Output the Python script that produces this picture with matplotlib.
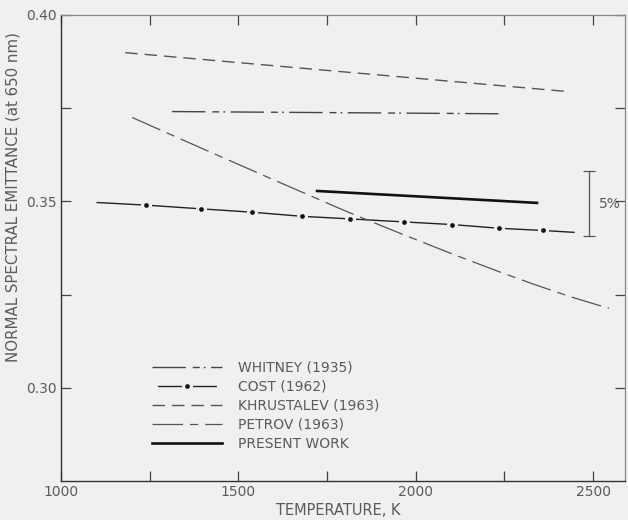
import matplotlib
matplotlib.use("Agg")
import matplotlib.pyplot as plt
from matplotlib.ticker import FixedLocator
from matplotlib.legend_handler import HandlerTuple

plt.rcParams['font.family'] = ['DejaVu Sans']
plt.rcParams['lines.scale_dashes'] = False

# ---- data ----
whitney_T = [1313, 2245]
whitney_E = [0.3741, 0.3735]

cost_T = [1102, 1239, 1396, 1539, 1679, 1816, 1966, 2101, 2234, 2358, 2446]
cost_E = [0.3497, 0.3490, 0.3480, 0.3471, 0.3460, 0.3453, 0.3445, 0.3438, 0.3428, 0.3422, 0.3417]
cost_marker_idx = list(range(1, 10))

khrustalev_T = [1181, 2424]
khrustalev_E = [0.3899, 0.3795]

petrov_T = [1201, 1393, 1604, 1810, 1957, 2106, 2239, 2332, 2437, 2545]
petrov_E = [0.3725, 0.3644, 0.3556, 0.3471, 0.3414, 0.3358, 0.3310, 0.3278, 0.3244, 0.3213]

present_T = [1722, 2342]
present_E = [0.3528, 0.3496]

bar_T = 2488
bar_center = 0.3494
bar_half = 0.00875

labels = ["WHITNEY (1935)", "COST (1962)", "KHRUSTALEV (1963)", "PETROV (1963)", "PRESENT WORK"]

BG = '#f0f0f0'
TXT = '#5a5a5a'

fig = plt.figure(figsize=(6.28, 5.20), dpi=100, facecolor=BG)
ax = fig.add_axes([61/628, 1-481/520, (625-61)/628, (481-15)/520])
ax.set_facecolor(BG)

h_w, = ax.plot(whitney_T, whitney_E, color='#444444', lw=1.0,
               dashes=(24, 5, 5, 3, 1.2, 4))
cost_line, = ax.plot(cost_T, cost_E, color='#222222', lw=1.0, marker='o',
                     markersize=8, markerfacecolor=BG, markeredgecolor='none',
                     markevery=cost_marker_idx)
cost_dots, = ax.plot([cost_T[i] for i in cost_marker_idx],
                     [cost_E[i] for i in cost_marker_idx],
                     linestyle='none', marker='o', markersize=3.4,
                     markerfacecolor='#111111', markeredgecolor='none')
h_k, = ax.plot(khrustalev_T, khrustalev_E, color='#555555', lw=1.0,
               dashes=(9, 5))
h_p, = ax.plot(petrov_T, petrov_E, color='#555555', lw=0.9,
               dashes=(22, 5, 6, 5))
h_pr, = ax.plot(present_T, present_E, color='#111111', lw=1.9)

# 5 % bar
ax.errorbar([bar_T], [bar_center], yerr=[[bar_half], [bar_half]], fmt='none',
            ecolor='#555555', elinewidth=0.9, capsize=4, capthick=0.9)
ax.text(bar_T + 28, bar_center, "5%", color=TXT, fontsize=10,
        va='center', ha='left')

ax.set_xlim(1000, 2590)
ax.set_ylim(0.275, 0.40)

ax.xaxis.set_major_locator(FixedLocator([1000, 1500, 2000, 2500]))
ax.xaxis.set_minor_locator(FixedLocator([1250, 1750, 2250]))
ax.yaxis.set_major_locator(FixedLocator([0.30, 0.35, 0.40]))
ax.yaxis.set_minor_locator(FixedLocator([0.325, 0.375]))
ax.set_xticklabels(['1000', '1500', '2000', '2500'])
ax.set_yticklabels(['0.30', '0.35', '0.40'])

ax.tick_params(which='both', direction='in', length=7, width=0.9,
               colors='#444444', labelcolor=TXT, labelsize=10,
               top=True, right=True)
ax.tick_params(axis='y', pad=3)
ax.tick_params(axis='x', pad=3)

for s in ['left', 'bottom']:
    ax.spines[s].set_color('#333333')
    ax.spines[s].set_linewidth(1.0)
for s in ['top', 'right']:
    ax.spines[s].set_color('#888888')
    ax.spines[s].set_linewidth(0.9)

ax.set_xlabel("TEMPERATURE, K", color=TXT, fontsize=10.5)
ax.xaxis.set_label_coords((338-61)/564, -0.047)
ax.set_ylabel("NORMAL SPECTRAL EMITTANCE (at 650 nm)", color=TXT, fontsize=10.8)
ax.yaxis.set_label_coords(-0.072, 0.61)

leg = ax.legend([h_w, (cost_line, cost_dots), h_k, h_p, h_pr], labels,
                handler_map={tuple: HandlerTuple(ndivide=1)},
                loc='upper left', bbox_to_anchor=(0.162, 0.258), frameon=False,
                handlelength=5.0, handletextpad=1.15, labelspacing=0.36,
                borderpad=0, borderaxespad=0, fontsize=10, labelcolor=TXT,
                numpoints=1)
for h in leg.legend_handles:
    try:
        h.set_markevery(None)
    except Exception:
        pass

fig.savefig("out.png", dpi=100, facecolor=BG)
